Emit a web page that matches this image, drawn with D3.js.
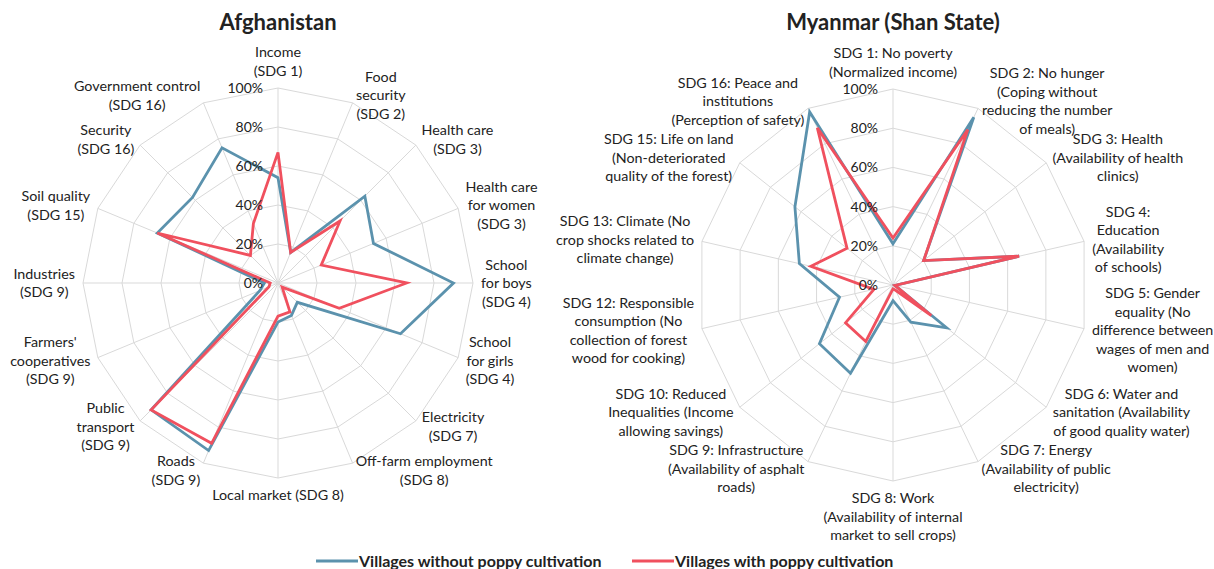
<!DOCTYPE html>
<html>
<head>
<meta charset="utf-8">
<script src="https://cdn.jsdelivr.net/npm/d3@7"></script>
<style>
  body { margin: 0; background: #fff; }
  text { font-family: Lato, "Open Sans", sans-serif; fill: #222; }
</style>
</head>
<body>
<svg id="chart" width="1214" height="569"></svg>
<script>
// axis labels (one entry per line of text)
var afgAxes = [
  ["Income", "(SDG 1)"],
  ["Food", "security", "(SDG 2)"],
  ["Health care", "(SDG 3)"],
  ["Health care", "for women", "(SDG 3)"],
  ["School", "for boys", "(SDG 4)"],
  ["School", "for girls", "(SDG 4)"],
  ["Electricity", "(SDG 7)"],
  ["Off-farm employment", "(SDG 8)"],
  ["Local market (SDG 8)"],
  ["Roads", "(SDG 9)"],
  ["Public", "transport", "(SDG 9)"],
  ["Farmers'", "cooperatives", "(SDG 9)"],
  ["Industries", "(SDG 9)"],
  ["Soil quality", "(SDG 15)"],
  ["Security", "(SDG 16)"],
  ["Government control", "(SDG 16)"]
];
var afgWithout = [54, 17, 63, 53, 90, 68, 14, 18, 20, 93, 92, 10, 7, 67, 62, 75];
var afgWith    = [67, 17, 45, 24, 66, 34, 3, 16, 17, 89, 92, 5, 4, 67, 20, 33];

var myaAxes = [
  ["SDG 1: No poverty", "(Normalized income)"],
  ["SDG 2: No hunger", "(Coping without", "reducing the number", "of meals)"],
  ["SDG 3: Health", "(Availability of health", "clinics)"],
  ["SDG 4:", "Education", "(Availability", "of schools)"],
  ["SDG 5: Gender", "equality (No", "difference between", "wages of men and", "women)"],
  ["SDG 6: Water and", "sanitation (Availability", "of good quality water)"],
  ["SDG 7: Energy", "(Availability of public", "electricity)"],
  ["SDG 8: Work", "(Availability of internal", "market to sell crops)"],
  ["SDG 9: Infrastructure", "(Availability of asphalt", "roads)"],
  ["SDG 10: Reduced", "Inequalities (Income", "allowing savings)"],
  ["SDG 12: Responsible", "consumption (No", "collection of forest", "wood for cooking)"],
  ["SDG 13: Climate (No", "crop shocks related to", "climate change)"],
  ["SDG 15: Life on land", "(Non-deteriorated", "quality of the forest)"],
  ["SDG 16: Peace and", "institutions", "(Perception of safety)"]
];
var myaWithout = [21, 95, 20, 66, 1, 35, 21, 8, 50, 48, 28, 49, 64, 98];
var myaWith    = [24, 88, 20, 66, 1, 25, 3, 2, 32, 31, 10, 43, 30, 89];

var tickValues = [0, 20, 40, 60, 80, 100];
var seriesNames = ["Villages without poppy cultivation", "Villages with poppy cultivation"];
var seriesColors = ["#5b92ad", "#f0505e"];

var svg = d3.select("#chart");

function radar(cx, cy, R, title, axes, series) {
    var g = svg.append("g").attr("transform", "translate(" + cx + "," + cy + ")");
    var n = axes.length;
    var r = d3.scaleLinear().domain([0, 100]).range([0, R]);
    var ang = function(i) { return i * 2 * Math.PI / n; };

    // title
    svg.append("text")
        .attr("x", cx).attr("y", 30)
        .attr("text-anchor", "middle")
        .style("font-size", "22px").style("font-weight", "bold")
        .text(title);

    // grid rings
    tickValues.slice(1).forEach(function(t) {
        var pts = d3.range(n).map(function(i) {
            return [r(t) * Math.sin(ang(i)), -r(t) * Math.cos(ang(i))];
        });
        g.append("polygon")
            .attr("points", pts.map(function(p) { return p.join(","); }).join(" "))
            .attr("fill", "none").attr("stroke", "#d9d9d9").attr("stroke-width", 1);
    });
    // spokes
    d3.range(n).forEach(function(i) {
        g.append("line")
            .attr("x1", 0).attr("y1", 0)
            .attr("x2", r(100) * Math.sin(ang(i)))
            .attr("y2", -r(100) * Math.cos(ang(i)))
            .attr("stroke", "#d9d9d9").attr("stroke-width", 1);
    });

    // series
    var line = d3.lineRadial()
        .angle(function(d, i) { return ang(i); })
        .radius(function(d) { return r(d); })
        .curve(d3.curveLinearClosed);
    series.forEach(function(s, k) {
        g.append("path")
            .attr("d", line(s))
            .attr("fill", "none")
            .attr("stroke", seriesColors[k])
            .attr("stroke-width", 2.8)
            .attr("stroke-linejoin", "miter");
    });

    // tick labels
    tickValues.forEach(function(t) {
        g.append("text")
            .attr("x", -15).attr("y", -r(t))
            .attr("dy", "0.36em")
            .attr("text-anchor", "end")
            .style("font-size", "14px")
            .text(t + "%");
    });

    // axis labels
    var lh = 18.5;
    axes.forEach(function(lines, i) {
        var a = ang(i), dx = Math.sin(a), dy = -Math.cos(a);
        var ax = (R + 8) * dx, ay = (R + 8) * dy;
        var t = g.append("text").attr("text-anchor", "middle").style("font-size", "14.3px");
        lines.forEach(function(l, j) {
            t.append("tspan").attr("x", 0).attr("y", j * lh).text(l);
        });
        var w = t.node().getBBox().width, h = lines.length * lh;
        var lx = ax, ly = ay;
        if (Math.abs(dx) < 0.05) {
            ly = ay + (dy < 0 ? -h / 2 : h / 2);
        } else {
            lx = ax + (dx > 0 ? w / 2 : -w / 2);
        }
        var y0 = ly - (lines.length - 1) * lh / 2 + 5;
        t.selectAll("tspan")
            .attr("x", lx)
            .attr("y", function(d, j) { return y0 + j * lh; });
    });
}

radar(278, 283, 195, "Afghanistan", afgAxes, [afgWithout, afgWith]);
radar(893, 285, 196, "Myanmar (Shan State)", myaAxes, [myaWithout, myaWith]);

// legend
var legX = [316, 632];
seriesNames.forEach(function(name, k) {
    var lg = svg.append("g").attr("transform", "translate(" + legX[k] + ",561)");
    lg.append("line").attr("x1", 0).attr("x2", 42).attr("y1", 0).attr("y2", 0)
        .attr("stroke", seriesColors[k]).attr("stroke-width", 3);
    lg.append("text").attr("x", 43).attr("dy", "0.36em")
        .style("font-size", "16px").style("font-weight", "bold")
        .text(name);
});
</script>
</body>
</html>
